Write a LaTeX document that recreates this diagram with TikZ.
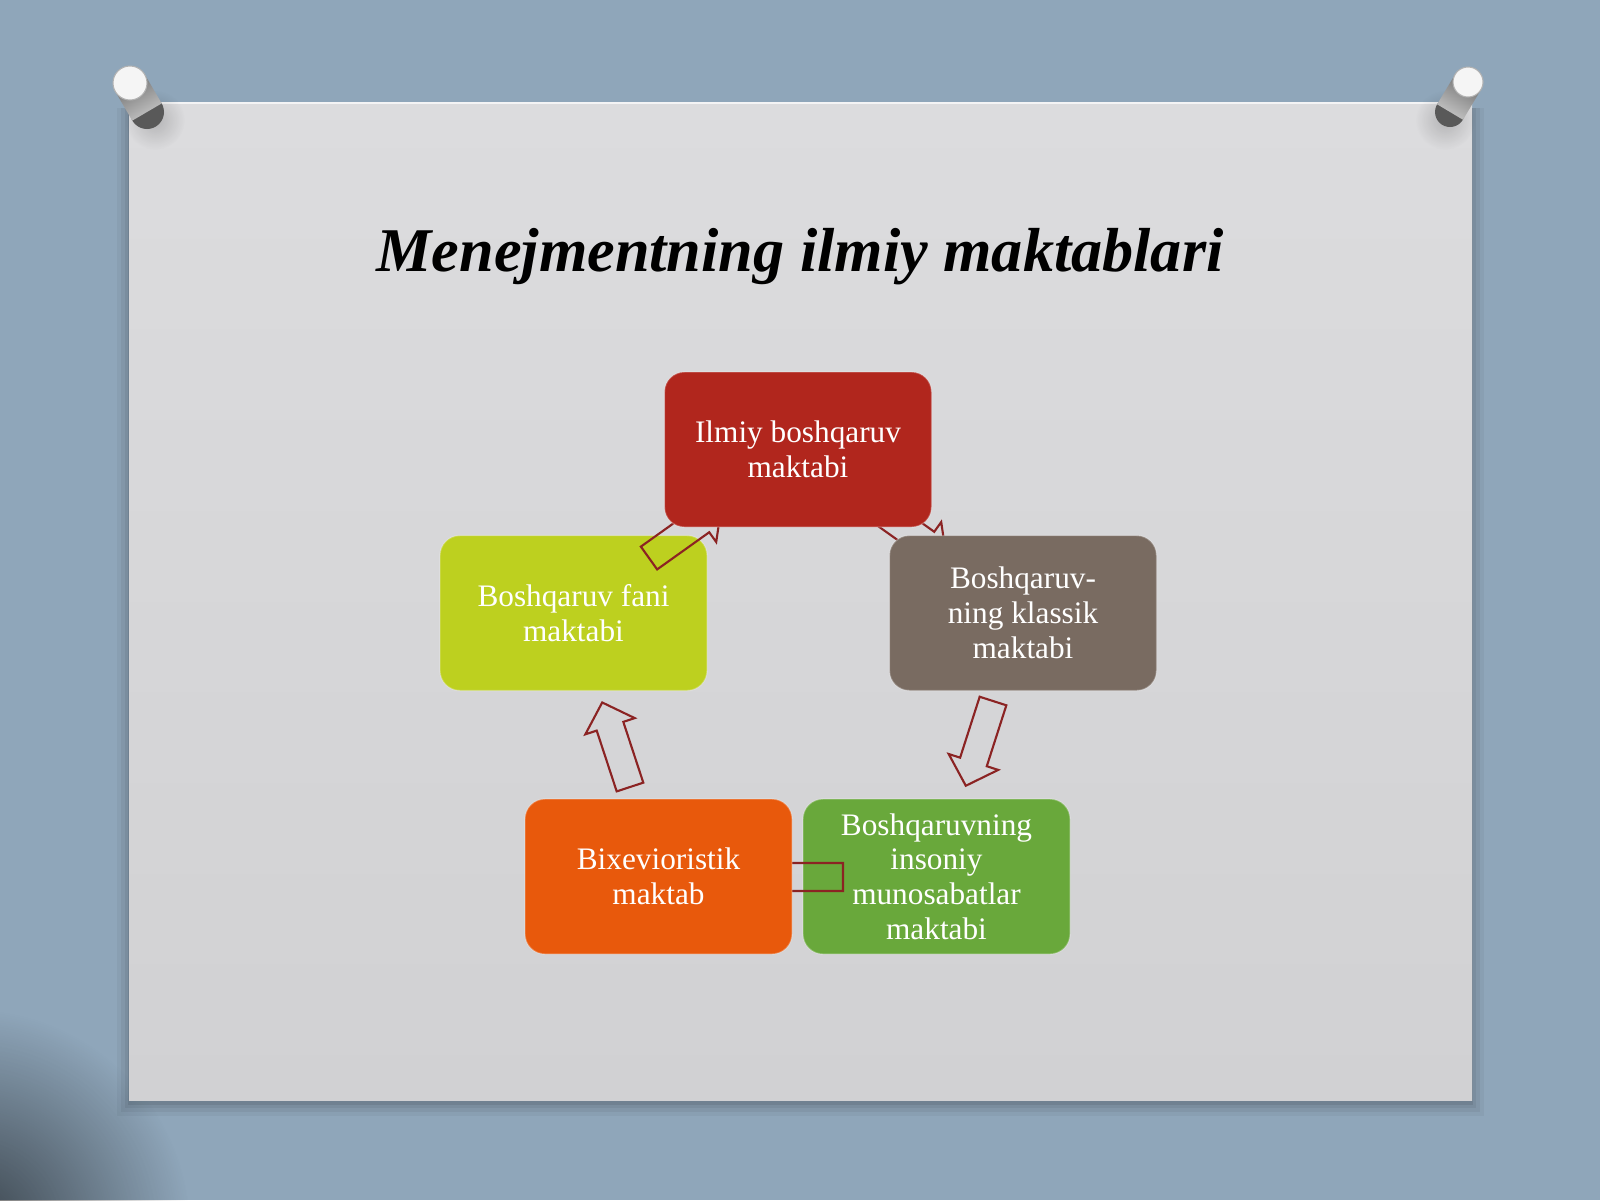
\documentclass[tikz,border=0pt]{standalone}
\usepackage{fontspec}
\setmainfont{Liberation Serif}
\usetikzlibrary{fadings}
\definecolor{bgblue}{HTML}{8FA6BA}
\definecolor{panelgray}{HTML}{D1D1D3}
\definecolor{paneltop}{HTML}{DCDCDE}
\definecolor{cred}{HTML}{B1261D}
\definecolor{clime}{HTML}{BDD01F}
\definecolor{cgray}{HTML}{796B61}
\definecolor{corange}{HTML}{E8590C}
\definecolor{cgreen}{HTML}{69A83B}
\definecolor{arrowred}{HTML}{8B2323}
\tikzfading[name=softglow, inner color=transparent!0, outer color=transparent!100]
\tikzset{
  box/.style={rounded corners=0.2cm, minimum width=2.67cm, minimum height=1.55cm,
    text=white, align=center, font=\fontsize{8.9}{9.9}\selectfont, inner sep=0pt,
    draw=white, draw opacity=0.25, line width=0.4pt},
  arrowline/.style={draw=arrowred, line width=0.6pt, line join=miter},
  cyclearrow/.pic={
    \draw[arrowline] (0,-0.14) -- (0.64,-0.14) -- (0.64,-0.26) -- (0.89,0)
      -- (0.64,0.26) -- (0.64,0.14) -- (0,0.14) -- cycle;
  },
  pinbody/.style={left color=gray!85!black, right color=gray!45},
}
\begin{document}
\begin{tikzpicture}
\useasboundingbox (0,0) rectangle (16,-12);
% background
\fill[bgblue] (0,0) rectangle (16,-12);
\fill[black, opacity=0.6, path fading=softglow] (-0.3,-12.3) circle (2.2);
% panel shadow
\foreach \d/\o in {0.14/0.04,0.10/0.05,0.06/0.06,0.03/0.08}{
  \fill[black, opacity=\o] (1.29-\d+0.02,-1.08) rectangle (14.72+\d-0.02,-11.0-\d-0.02);
}
% panel
\shade[top color=paneltop, bottom color=panelgray] (1.29,-1.02) rectangle (14.72,-11.0);
\draw[white, opacity=0.7, line width=0.6pt] (1.29,-1.03) -- (14.72,-1.03);
% left pin
\fill[black, opacity=0.18, path fading=softglow] (1.55,-1.2) circle (0.3);
\fill[gray!70!black] (1.47,-1.12) circle (0.17);
\shade[pinbody, shading angle=30] (1.447,-0.744) -- (1.617,-1.034) -- (1.323,-1.206) -- (1.153,-0.916) -- cycle;
\fill[white!92!gray] (1.30,-0.83) circle (0.17);
\draw[gray!60, line width=0.3pt] (1.30,-0.83) circle (0.17);
% right pin
\fill[black, opacity=0.18, path fading=softglow] (14.45,-1.2) circle (0.3);
\fill[gray!70!black] (14.50,-1.12) circle (0.15);
\shade[pinbody, shading angle=-30] (14.809,-0.897) -- (14.629,-1.197) -- (14.371,-1.043) -- (14.551,-0.743) -- cycle;
\fill[white!92!gray] (14.68,-0.82) circle (0.15);
\draw[gray!60, line width=0.3pt] (14.68,-0.82) circle (0.15);
% title
\node[anchor=base, font=\fontsize{17.7}{20}\selectfont\bfseries\itshape] (title) at (8.0,-2.71) {Menejmentning ilmiy maktablari};
% diagram
\coordinate (a1) at (8.74,-5.06);
\coordinate (a2) at (9.93,-7.01);
\coordinate (a4) at (8.43,-8.77);
\coordinate (a5) at (6.30,-7.87);
\coordinate (a6) at (6.49,-5.58);
\node[box, fill=cgreen] (green) at (9.365,-8.765) {Boshqaruvning\\insoniy\\munosabatlar\\maktabi};
\pic[rotate=180] at (a4) {cyclearrow};
\node[box, fill=corange] (orange) at (6.585,-8.765) {Bixevioristik\\maktab};
\node[box, fill=clime] (lime) at (5.735,-6.13) {Boshqaruv fani\\maktabi};
\pic[rotate=35.5] at (a6) {cyclearrow};
\pic[rotate=-35.5] at (a1) {cyclearrow};
\node[box, fill=cred] (red) at (7.98,-4.495) {Ilmiy boshqaruv\\maktabi};
\node[box, fill=cgray] (gray) at (10.23,-6.13) {Boshqaruv-\\ning klassik\\maktabi};
\pic[rotate=-107.8] at (a2) {cyclearrow};
\pic[rotate=108.2] at (a5) {cyclearrow};
\end{tikzpicture}
\end{document}
